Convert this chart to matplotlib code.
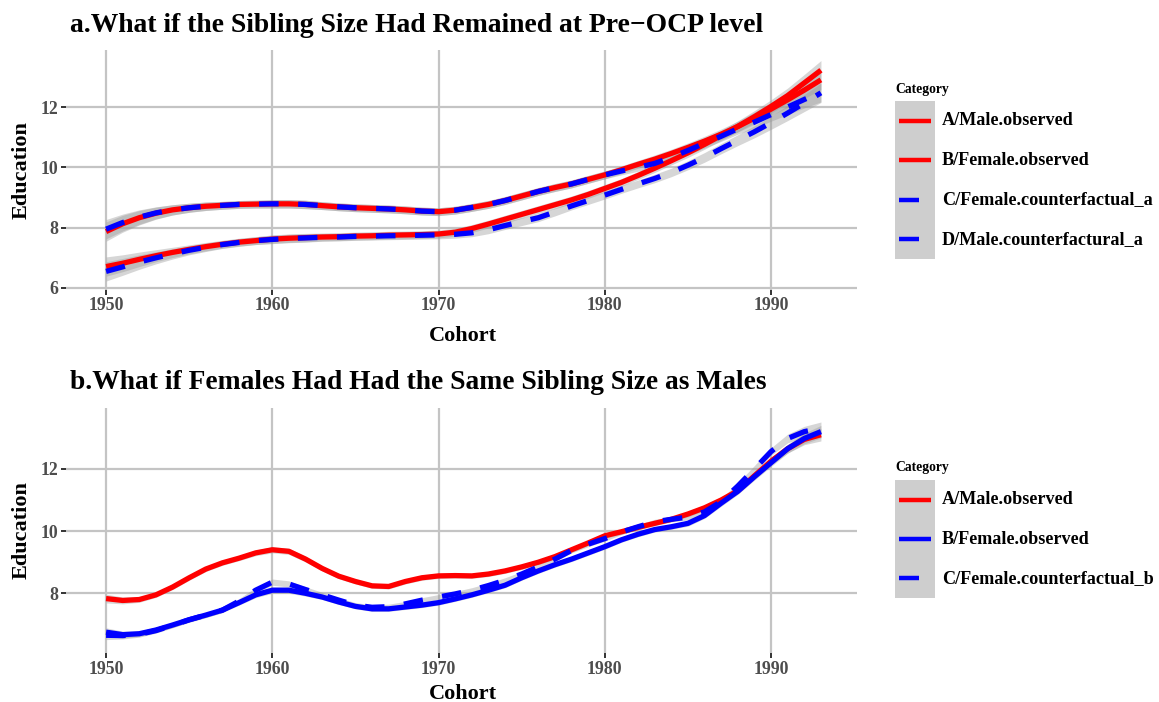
import numpy as np
import matplotlib
matplotlib.use('Agg')
import matplotlib.pyplot as plt
from matplotlib.lines import Line2D

plt.rcParams['font.family'] = ['Liberation Serif', 'DejaVu Serif']
plt.rcParams['font.weight'] = 'bold'

W, H = 1159, 702

cohort = list(range(1950, 1994))

# panel a: observed vs. counterfactual a (sibling size at pre-OCP level)
male_obs_a = [7.87, 8.13, 8.33, 8.48, 8.59, 8.66, 8.71, 8.74, 8.77, 8.78,
              8.79, 8.79, 8.77, 8.73, 8.69, 8.66, 8.64, 8.62, 8.59, 8.55,
              8.53, 8.58, 8.67, 8.77, 8.90, 9.05, 9.20, 9.33, 9.45, 9.60,
              9.75, 9.92, 10.10, 10.27, 10.46, 10.66, 10.87, 11.10, 11.35, 11.63,
              11.93, 12.24, 12.56, 12.90]
female_obs_a = [6.71, 6.82, 6.95, 7.07, 7.18, 7.28, 7.37, 7.45, 7.52, 7.57,
                7.62, 7.65, 7.67, 7.69, 7.70, 7.72, 7.73, 7.75, 7.76, 7.77,
                7.79, 7.85, 7.97, 8.12, 8.28, 8.44, 8.60, 8.76, 8.92, 9.10,
                9.30, 9.50, 9.73, 9.97, 10.22, 10.48, 10.76, 11.06, 11.36, 11.68,
                12.02, 12.38, 12.80, 13.22]
female_cf_a = [6.55, 6.70, 6.86, 7.00, 7.13, 7.25, 7.35, 7.44, 7.51, 7.57,
               7.61, 7.64, 7.66, 7.68, 7.69, 7.71, 7.72, 7.73, 7.74, 7.75,
               7.76, 7.78, 7.83, 7.93, 8.07, 8.20, 8.33, 8.52, 8.72, 8.90,
               9.08, 9.27, 9.45, 9.63, 9.83, 10.07, 10.33, 10.62, 10.90, 11.18,
               11.48, 11.80, 12.13, 12.47]
male_cf_a = [7.95, 8.17, 8.35, 8.49, 8.59, 8.66, 8.71, 8.74, 8.77, 8.78,
             8.79, 8.79, 8.77, 8.73, 8.69, 8.66, 8.64, 8.62, 8.59, 8.55,
             8.53, 8.58, 8.67, 8.77, 8.90, 9.05, 9.20, 9.33, 9.45, 9.60,
             9.75, 9.88, 10.00, 10.13, 10.33, 10.56, 10.80, 11.03, 11.28, 11.50,
             11.75, 12.00, 12.25, 12.49]
band_a = [0.32, 0.28, 0.24, 0.20, 0.17, 0.15, 0.14, 0.13, 0.13, 0.13,
          0.14, 0.14, 0.14, 0.13, 0.13, 0.13, 0.13, 0.13, 0.13, 0.13,
          0.13, 0.13, 0.13, 0.13, 0.13, 0.13, 0.13, 0.13, 0.13, 0.13,
          0.13, 0.13, 0.13, 0.14, 0.14, 0.15, 0.16, 0.17, 0.18, 0.20,
          0.22, 0.25, 0.28, 0.32]

# panel b: females given the sibling size of males
male_obs_b = [7.83, 7.77, 7.80, 7.95, 8.20, 8.50, 8.78, 8.98, 9.13, 9.30,
              9.40, 9.35, 9.10, 8.80, 8.55, 8.38, 8.24, 8.22, 8.38, 8.50,
              8.56, 8.57, 8.56, 8.62, 8.72, 8.85, 9.00, 9.18, 9.40, 9.62,
              9.85, 9.98, 10.12, 10.25, 10.38, 10.55, 10.75, 11.00, 11.30, 11.78,
              12.25, 12.65, 12.95, 13.10]
female_obs_b = [6.75, 6.67, 6.70, 6.82, 6.98, 7.15, 7.30, 7.46, 7.70, 7.95,
                8.10, 8.10, 8.00, 7.88, 7.72, 7.58, 7.50, 7.50, 7.56, 7.62,
                7.70, 7.82, 7.95, 8.10, 8.26, 8.50, 8.72, 8.92, 9.10, 9.30,
                9.50, 9.72, 9.90, 10.05, 10.14, 10.25, 10.50, 10.90, 11.28, 11.75,
                12.20, 12.65, 12.98, 13.20]
female_cf_b = [6.65, 6.64, 6.68, 6.80, 6.97, 7.15, 7.30, 7.46, 7.75, 8.10,
               8.36, 8.30, 8.12, 7.95, 7.78, 7.62, 7.55, 7.57, 7.66, 7.78,
               7.88, 7.98, 8.10, 8.25, 8.42, 8.62, 8.85, 9.10, 9.38, 9.58,
               9.76, 9.97, 10.14, 10.30, 10.38, 10.45, 10.62, 10.95, 11.45, 12.00,
               12.56, 12.98, 13.20, 13.31]
band_b = [0.14, 0.11, 0.09, 0.08, 0.08, 0.08, 0.08, 0.08, 0.08, 0.09,
          0.10, 0.10, 0.09, 0.08, 0.08, 0.08, 0.08, 0.08, 0.08, 0.08,
          0.08, 0.08, 0.08, 0.08, 0.08, 0.08, 0.08, 0.08, 0.08, 0.08,
          0.08, 0.08, 0.08, 0.08, 0.08, 0.09, 0.09, 0.10, 0.10, 0.11,
          0.12, 0.14, 0.17, 0.20]

labels_a = ['A/Male.observed', 'B/Female.observed',
            'C/Female.counterfactual_a', 'D/Male.counterfactural_a']
colors_a = ['red', 'red', 'blue', 'blue']
styles_a = ['solid', 'solid', 'dashed', 'dashed']
series_a = [male_obs_a, female_obs_a, female_cf_a, male_cf_a]

labels_b = ['A/Male.observed', 'B/Female.observed', 'C/Female.counterfactual_b']
colors_b = ['red', 'blue', 'blue']
styles_b = ['solid', 'solid', 'dashed']
series_b = [male_obs_b, female_obs_b, female_cf_b]

xticks = [1950, 1960, 1970, 1980, 1990]

LW = 3.8
DASH = (0, (3.7, 3.7))


def fig_box(left, top, right, bottom):
    return [left / W, 1 - bottom / H, (right - left) / W, (bottom - top) / H]


def DrawPanel(ax, series, colors, styles, band, ylim, yticks):
    x = np.array(cohort)
    for vals, col, ls in zip(series, colors, styles):
        v = np.array(vals)
        b = np.array(band)
        ax.fill_between(x, v - b, v + b, color='#999999', alpha=0.4, lw=0)
        ax.plot(x, v, color=col, lw=LW,
                linestyle=DASH if ls == 'dashed' else '-',
                solid_capstyle='butt', dash_capstyle='butt')
    ax.set_xlim(1947.59, 1995.17)
    ax.set_ylim(*ylim)
    ax.set_xticks(xticks)
    ax.set_yticks(yticks)
    ax.grid(True, color='#c4c4c4', lw=1.6)
    ax.set_axisbelow(True)
    for s in ax.spines.values():
        s.set_visible(False)
    ax.tick_params(length=3.6, width=1.4, color='#333333', labelcolor='#4d4d4d',
                   labelsize=12.8, pad=2)
    for lab in ax.get_xticklabels() + ax.get_yticklabels():
        lab.set_fontweight('bold')


def DrawLegend(fig, top, bottom, labels, colors, styles, title_base):
    n = len(labels)
    lax = fig.add_axes(fig_box(895, top, 935, bottom))
    lax.set_facecolor('#cecece')
    lax.set_xlim(0, 40)
    lax.set_ylim(n, 0)
    lax.set_xticks([])
    lax.set_yticks([])
    for s in lax.spines.values():
        s.set_visible(False)
    step = (bottom - top) / n
    for i, (lab, col, ls) in enumerate(zip(labels, colors, styles)):
        x_end = 24 if ls == 'dashed' else 36
        lax.add_line(Line2D([4, x_end], [i + 0.5, i + 0.5], color=col, lw=3.2,
                            solid_capstyle='butt'))
        fig.text(942 / W, 1 - (top + step * (i + 0.5)) / H, lab,
                 fontsize=13.1, fontweight='bold', va='center', ha='left')
    fig.text(895 / W, 1 - title_base / H, 'Category', fontsize=9.8,
             fontweight='bold', va='baseline', ha='left')


fig = plt.figure(figsize=(W / 100, H / 100), dpi=100)

ax_a = fig.add_axes(fig_box(66, 50, 857, 289.5))
DrawPanel(ax_a, series_a, colors_a, styles_a, band_a, (5.95, 13.89), [6, 8, 10, 12])
ax_b = fig.add_axes(fig_box(66, 408, 857, 653))
DrawPanel(ax_b, series_b, colors_b, styles_b, band_b, (6.08, 13.96), [8, 10, 12])

fig.text(70 / W, 1 - 31.5 / H, 'a.What if the Sibling Size Had Remained at Pre\u2212OCP level',
         fontsize=19.9, fontweight='bold', va='baseline', ha='left')
fig.text(70 / W, 1 - 389 / H, 'b.What if Females Had Had the Same Sibling Size as Males',
         fontsize=19.8, fontweight='bold', va='baseline', ha='left')

for yc in (170, 530):
    fig.text(22 / W, 1 - yc / H, 'Education', fontsize=16, fontweight='bold',
             rotation=90, va='center', ha='center')
for yb in (340.5, 699):
    fig.text(463 / W, 1 - yb / H, 'Cohort', fontsize=16, fontweight='bold',
             va='baseline', ha='center')

DrawLegend(fig, 101, 259, labels_a, colors_a, styles_a, 92.5)
DrawLegend(fig, 480, 598, labels_b, colors_b, styles_b, 471.5)

fig.savefig('out.png', dpi=100)
